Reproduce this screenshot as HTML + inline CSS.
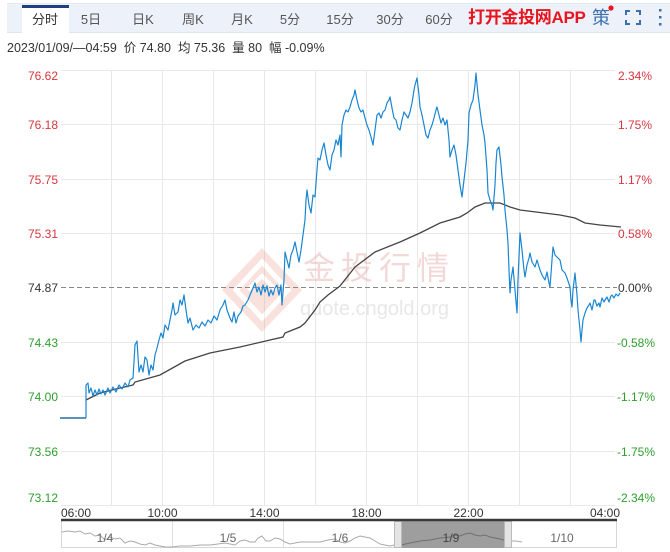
<!DOCTYPE html>
<html><head><meta charset="utf-8">
<style>
*{margin:0;padding:0;box-sizing:border-box}
body{width:670px;height:552px;background:#fff;position:relative;overflow:hidden;font-family:"Liberation Sans","Noto Sans CJK SC",sans-serif}
.bar{position:absolute;left:7px;top:3px;width:663px;height:30px;background:#edf2fa;border-top:1px solid #e3e9f2;border-bottom:1px solid #dfe6f0}
.act{position:absolute;left:22px;top:5px;width:47px;height:29px;background:#fff;border-top:3px solid #1e3f7e}
.t{position:absolute;top:12px;font-size:13px;color:#555;line-height:16px;white-space:nowrap;transform:translateX(-50%)}
.app{position:absolute;left:468px;top:8px;font-size:17px;font-weight:bold;color:#e8141e;line-height:20px;white-space:nowrap;letter-spacing:-0.3px}
.info{position:absolute;left:7px;top:40px;font-size:12.5px;color:#333;line-height:16px;white-space:nowrap}
svg{position:absolute;left:0;top:0}
</style></head><body>
<div class="bar"></div>
<div class="act"></div>
<div class="t" style="left:45px;color:#333">分时</div>
<div class="t" style="left:91px">5日</div>
<div class="t" style="left:143px">日K</div>
<div class="t" style="left:193px">周K</div>
<div class="t" style="left:242px">月K</div>
<div class="t" style="left:290px">5分</div>
<div class="t" style="left:340px">15分</div>
<div class="t" style="left:390px">30分</div>
<div class="t" style="left:439px">60分</div>
<div class="app">打开金投网APP</div>
<div class="t" style="left:601px;top:8px;font-size:18px;line-height:20px;color:#3a6fb0">策</div>
<div class="info">2023/01/09/—04:59&nbsp; 价 74.80&nbsp; 均 75.36&nbsp; 量 80&nbsp; 幅 -0.09%</div>

<svg width="670" height="552" viewBox="0 0 670 552" xmlns="http://www.w3.org/2000/svg">
<!-- header icons -->
<circle cx="611" cy="8" r="2.6" fill="#e8141e"/>
<g stroke="#3a6fb0" stroke-width="2" fill="none">
<path d="M626 15 V11 H630"/><path d="M636 11 H640 V15"/><path d="M626 20 V24 H630"/><path d="M636 24 H640 V20"/>
</g>
<g fill="#3a6fb0"><rect x="659" y="9" width="2.5" height="2.5"/><rect x="659" y="16" width="2.5" height="2.5"/><rect x="659" y="23" width="2.5" height="2.5"/></g>

<!-- grid -->
<g stroke="#e8e8e8" stroke-width="1">
<line x1="61" y1="70.5" x2="615" y2="70.5"/>
<line x1="61" y1="124.5" x2="615" y2="124.5"/>
<line x1="61" y1="179.5" x2="615" y2="179.5"/>
<line x1="61" y1="233.5" x2="615" y2="233.5"/>
<line x1="61" y1="342.5" x2="615" y2="342.5"/>
<line x1="61" y1="396.5" x2="615" y2="396.5"/>
<line x1="61" y1="451.5" x2="615" y2="451.5"/>
<line x1="61" y1="505.5" x2="615" y2="505.5"/>
<line x1="111.5" y1="70" x2="111.5" y2="505"/>
<line x1="162.5" y1="70" x2="162.5" y2="505"/>
<line x1="213.5" y1="70" x2="213.5" y2="505"/>
<line x1="264.5" y1="70" x2="264.5" y2="505"/>
<line x1="315.5" y1="70" x2="315.5" y2="505"/>
<line x1="366.5" y1="70" x2="366.5" y2="505"/>
<line x1="417.5" y1="70" x2="417.5" y2="505"/>
<line x1="468.5" y1="70" x2="468.5" y2="505"/>
<line x1="519.5" y1="70" x2="519.5" y2="505"/>
<line x1="570.5" y1="70" x2="570.5" y2="505"/>
</g>

<!-- watermark -->
<g opacity="0.22">
<path d="M262 248 L302 290 L262 332 L222 290 Z" fill="#e8806a"/>
<path d="M262 262 L288 290 L262 318 L236 290 Z" fill="none" stroke="#fff" stroke-width="5"/>
<path d="M248 290 L262 276 L276 290" fill="none" stroke="#fff" stroke-width="4"/>
</g>
<text x="303" y="279" font-size="32" fill="#e2a0a0" opacity="0.4" letter-spacing="6" font-family="Liberation Sans, Noto Sans CJK SC, sans-serif">金投行情</text>
<text x="300" y="315" font-size="20" fill="#d8d8d8" opacity="0.6" font-family="Liberation Sans, sans-serif">quote.cngold.org</text>

<!-- zero line -->
<line x1="61" y1="287.5" x2="617" y2="287.5" stroke="#888" stroke-width="1" stroke-dasharray="5,3"/>

<!-- avg line -->
<polyline fill="none" stroke="#444" stroke-width="1.3" points="86,400 100,393 120,388 133,385 135,382 160,375 185,361 210,353 240,347 270,340 283,337 285,333 300,327 305,323 315,310 320,302 328,295 340,286 355,267 375,252 400,242 420,233 440,223 460,217 467,213 475,207 485,203 500,203 510,207 520,210 560,215 575,218 585,223 600,225 621,227"/>

<!-- price line -->
<polyline fill="none" stroke="#2a6fa0" stroke-width="1.5" points="60,418 86,418"/>
<polyline fill="none" stroke="#1a86d2" stroke-width="1.2" stroke-linejoin="round" points="86,418 86,385 88,383 89,393 91,388 93,396 95,390 97,395 99,389 101,394 103,390 105,395 108,388 110,393 113,387 116,392 119,385 122,389 125,383 128,387 130,380 133,378 135,345 137,341 139,372 141,365 143,372 145,357 147,360 149,375 151,365 153,370 155,355 157,348 159,340 161,333 163,338 165,325 168,330 170,320 172,310 173,303 175,315 178,312 180,300 182,305 184,295 186,310 188,323 190,318 193,330 196,325 199,328 202,322 205,326 208,320 211,323 214,316 217,320 220,310 223,305 225,300 227,310 230,318 232,322 234,312 236,323 238,316 241,312 243,306 245,305 248,300 250,295 253,288 255,283 257,292 259,287 261,295 263,285 265,292 267,286 269,296 271,290 273,295 275,288 277,285 279,295 281,285 282,305 284,280 285,252 287,260 289,268 291,255 293,250 295,242 297,252 299,262 301,250 303,235 305,220 306,200 307,190 309,205 311,213 313,195 315,197 317,170 318,158 320,160 322,150 324,143 326,155 328,165 330,170 332,155 334,150 336,140 338,145 340,135 341,157 342,125 344,115 346,110 348,112 350,107 352,100 354,95 355,90 357,100 359,108 361,112 363,110 365,118 367,125 369,130 371,137 373,145 375,130 377,115 379,113 381,118 383,112 385,110 387,103 389,100 390,97 392,108 394,118 396,120 398,128 400,130 402,120 404,112 406,115 408,118 410,112 412,103 414,90 415,85 417,78 419,95 420,107 422,115 424,125 426,135 428,138 430,130 432,125 434,118 436,110 437,107 439,115 441,123 443,118 445,125 447,120 449,140 450,157 452,150 454,145 456,155 458,170 460,185 462,197 464,180 466,163 468,140 469,113 471,105 473,100 475,85 476,73 478,95 480,110 482,125 484,135 485,143 487,170 488,193 490,200 492,205 493,210 495,185 496,163 497,150 499,147 501,165 502,177 504,195 505,210 507,230 508,243 509,270 510,293 511,280 513,267 515,290 517,313 518,280 520,233 522,250 524,270 525,277 527,265 529,258 530,253 532,262 535,267 537,260 540,270 542,275 545,280 547,272 549,283 550,287 552,260 553,247 555,255 558,258 560,260 562,270 565,273 567,278 570,287 571,300 572,307 573,290 575,273 577,295 578,310 580,330 581,342 582,330 583,320 585,313 587,308 589,305 590,303 592,310 594,300 595,300 597,306 599,303 600,307 602,298 604,302 605,300 607,297 609,302 611,296 612,295 614,298 616,294 618,296 620,293"/>

<!-- y labels left -->
<g font-size="12" font-family="Liberation Sans, sans-serif" text-anchor="end">
<text x="58" y="80" fill="#d9363e">76.62</text>
<text x="58" y="129" fill="#d9363e">76.18</text>
<text x="58" y="184" fill="#d9363e">75.75</text>
<text x="58" y="238" fill="#d9363e">75.31</text>
<text x="58" y="292" fill="#333">74.87</text>
<text x="58" y="347" fill="#2e9e2e">74.43</text>
<text x="58" y="401" fill="#2e9e2e">74.00</text>
<text x="58" y="456" fill="#2e9e2e">73.56</text>
<text x="58" y="502" fill="#2e9e2e">73.12</text>
</g>
<!-- y labels right -->
<g font-size="12" font-family="Liberation Sans, sans-serif" text-anchor="start">
<text x="618" y="80" fill="#d9363e">2.34%</text>
<text x="618" y="129" fill="#d9363e">1.75%</text>
<text x="618" y="184" fill="#d9363e">1.17%</text>
<text x="618" y="238" fill="#d9363e">0.58%</text>
<text x="618" y="292" fill="#333">0.00%</text>
<text x="617" y="347" fill="#2e9e2e">-0.58%</text>
<text x="617" y="401" fill="#2e9e2e">-1.17%</text>
<text x="617" y="456" fill="#2e9e2e">-1.75%</text>
<text x="617" y="502" fill="#2e9e2e">-2.34%</text>
</g>
<!-- x labels -->
<g font-size="12" font-family="Liberation Sans, sans-serif" fill="#333">
<text x="61" y="517">06:00</text>
<text x="162.5" y="517" text-anchor="middle">10:00</text>
<text x="264.5" y="517" text-anchor="middle">14:00</text>
<text x="366.5" y="517" text-anchor="middle">18:00</text>
<text x="468.5" y="517" text-anchor="middle">22:00</text>
<text x="620" y="517" text-anchor="end">04:00</text>
</g>

<!-- navigator -->
<rect x="61.5" y="520.5" width="555" height="27" fill="#fff" stroke="#d6d6d6"/>
<rect x="394" y="521" width="117" height="27" fill="#9e9e9e"/>
<g stroke="#dedede"><line x1="172.5" y1="521" x2="172.5" y2="548"/><line x1="283.5" y1="521" x2="283.5" y2="548"/></g>
<polyline fill="none" stroke="#aaa" stroke-width="1" points="62,532 68,531 75,532 80,531 85,534 90,533 95,536 100,535 105,540 110,537 115,539 120,538 125,543 130,541 135,542 140,544 145,545 150,543 155,545 160,546 165,547 172,547 180,546 190,546 200,545 210,545 218,544 225,543 230,544 235,545 240,541 245,540 250,542 255,542 258,538 262,536 266,541 270,541 275,538 280,539 285,542 290,544 295,543 300,542 310,542 320,542 328,540 335,539 340,542 345,543 350,541 355,538 360,536 365,537 370,538 375,541 380,544 385,545 390,546 394,545"/>
<polyline fill="none" stroke="#707070" stroke-width="1" points="401,545 410,543 420,541 430,540 440,538 450,537 455,535 460,536 465,534 470,533 475,535 480,536 485,535 490,537 495,538 500,539 504,540"/>
<polyline fill="none" stroke="#aaa" stroke-width="1" points="511,541 516,541 522,542"/>
<rect x="394.5" y="521.5" width="7" height="26" fill="#e4e4e4" stroke="#bbb"/>
<rect x="504.5" y="521.5" width="7" height="26" fill="#e4e4e4" stroke="#bbb"/>
<line x1="61" y1="520" x2="617" y2="520" stroke="#3a3a3a" stroke-width="2.5"/>
<g font-size="12" font-family="Liberation Sans, sans-serif" fill="#666" text-anchor="middle">
<text x="105" y="542">1/4</text>
<text x="228" y="542">1/5</text>
<text x="340" y="542">1/6</text>
<text x="451" y="542" fill="#444">1/9</text>
<text x="562" y="542">1/10</text>
</g>
</svg>
</body></html>
